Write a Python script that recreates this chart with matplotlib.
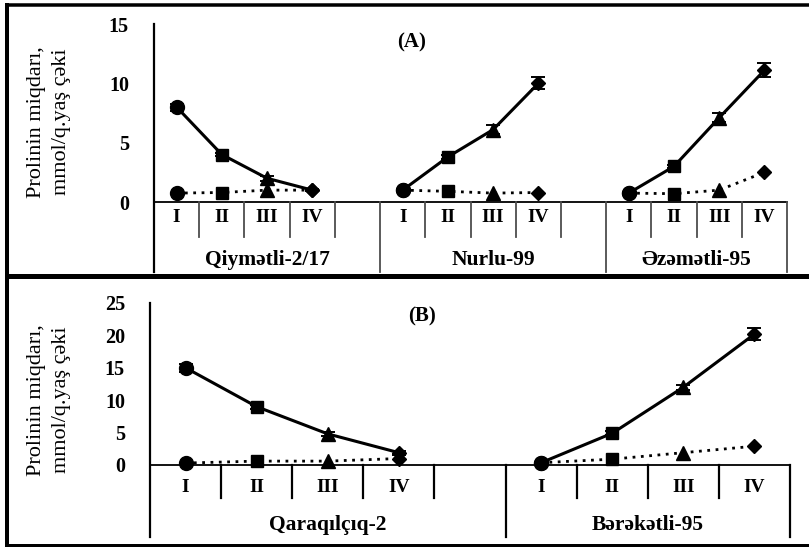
import matplotlib
matplotlib.use("Agg")
import matplotlib.pyplot as plt
from matplotlib.lines import Line2D
import numpy as np

plt.rcParams['font.family'] = ['Liberation Serif', 'DejaVu Serif']

# ---------------- data ----------------
stages = ["I", "II", "III", "IV"]
stage_markers = ['o', 's', '^', 'D']

groups_A = ["Qiymətli-2/17", "Nurlu-99", "Əzəmətli-95"]
group_start_A = [0, 5, 10]
group_width_A = [5, 5, 4]
n_slots_A = 14
solid_A = [[8.0, 4.0, 2.0, 1.0],
           [1.0, 3.8, 6.1, 10.0],
           [0.75, 3.0, 7.1, 11.1]]
solid_err_A = [[0.3, 0.15, 0.2, 0.1],
               [0.1, 0.15, 0.4, 0.5],
               [0.1, 0.15, 0.4, 0.6]]
dotted_A = [[0.75, 0.8, 1.0, 1.0],
            [1.0, 0.9, 0.75, 0.8],
            [0.75, 0.7, 1.0, 2.5]]
yticks_A = [0, 5, 10, 15]

groups_B = ["Qaraqılçıq-2", "Bərəkətli-95"]
group_start_B = [0, 5]
group_width_B = [5, 4]
n_slots_B = 9
solid_B = [[15.0, 9.0, 4.8, 1.9],
           [0.35, 4.9, 12.0, 20.2]]
solid_err_B = [[0.6, 0.3, 0.3, 0.3],
               [0.1, 0.3, 0.4, 0.9]]
dotted_B = [[0.3, 0.6, 0.6, 1.0],
            [0.35, 0.9, 1.9, 2.9]]
yticks_B = [0, 5, 10, 15, 20, 25]

ylabel_lines = ["Prolinin miqdarı,", "mmol/q.yaş çəki"]

W, H = 809, 547
fig = plt.figure(figsize=(W / 100, H / 100), dpi=100)


def fx(px):
    return px / W


def fy(py):
    return 1 - py / H


def panel(left_px, right_px, top_px, bot_px, zero_px, ymax, yticks,
          groups, starts, widths, nslots, solid, serr, dotted, tick_len_px,
          cat_y_px, grp_y_px, title, title_xy, sep_color, sep_lw, ylab_y):
    ax = fig.add_axes([fx(left_px), fy(bot_px), fx(right_px - left_px),
                       (bot_px - top_px) / H])
    ppu = (zero_px - top_px) / ymax
    ymin = -(bot_px - zero_px) / ppu
    ax.set_xlim(0, nslots)
    ax.set_ylim(ymin, ymax)
    for s in ['top', 'right', 'bottom']:
        ax.spines[s].set_visible(False)
    ax.spines['left'].set_linewidth(1.6)
    ax.set_xticks([])
    ax.set_yticks(yticks)
    ax.set_yticklabels([str(t) for t in yticks], fontsize=14.5, fontweight='bold')
    ax.tick_params(axis='y', length=0, pad=18)
    ax.patch.set_visible(False)

    # category axis
    ax.plot([0, nslots], [0, 0], color='black', lw=1.3, clip_on=False)
    tick_len = tick_len_px / ppu
    group_bounds = set(starts[1:]) | {nslots}
    for b in range(1, nslots + 1):
        if b in group_bounds:
            ax.plot([b, b], [0, ymin], color=sep_color, lw=sep_lw, clip_on=False)
        else:
            ax.plot([b, b], [0, -tick_len], color=sep_color, lw=sep_lw, clip_on=False)
    cat_y = -(cat_y_px - zero_px) / ppu
    grp_y = -(grp_y_px - zero_px) / ppu
    for gi, g in enumerate(groups):
        st = starts[gi]
        for k, lab in enumerate(stages):
            ax.text(st + k + 0.5, cat_y, lab, ha='center', va='center',
                    fontsize=14, fontweight='bold')
        ax.text(st + widths[gi] / 2, grp_y, g, ha='center', va='center',
                fontsize=15.5, fontweight='bold')

        xs = np.arange(4) + st + 0.5
        # dotted series
        ax.plot(xs, dotted[gi], color='black', lw=2.0, ls=(0, (1, 2)), zorder=3)
        # solid series
        ax.errorbar(xs, solid[gi], yerr=serr[gi], color='black', lw=2.2,
                    capsize=5, elinewidth=1.4, capthick=1.4, zorder=4)
        for k in range(4):
            m = stage_markers[k]
            ms = {'o': 10, 's': 9, '^': 10, 'D': 7.5}[m]
            ax.plot(xs[k], dotted[gi][k], marker=m, ms=ms, color='black',
                    ls='none', zorder=5)
            ax.plot(xs[k], solid[gi][k], marker=m, ms=ms, color='black',
                    ls='none', zorder=6)

    fig.text(fx(title_xy[0]), fy(title_xy[1]), title, ha='center', va='center',
             fontsize=15, fontweight='bold')
    fig.text(fx(37), fy(ylab_y), ylabel_lines[0], rotation=90,
             ha='center', va='center', fontsize=16)
    fig.text(fx(62), fy(ylab_y), ylabel_lines[1], rotation=90,
             ha='center', va='center', fontsize=16)
    return ax


panel(154, 787, 24, 272, 202, 15, yticks_A, groups_A, group_start_A,
      group_width_A, n_slots_A, solid_A, solid_err_A, dotted_A, 35, 218, 260,
      "(A)", (412, 42), '0.3', 1.3, 122)

panel(150, 790, 303, 537, 465, 25, yticks_B, groups_B, group_start_B,
      group_width_B, n_slots_B, solid_B, solid_err_B, dotted_B, 33, 488, 525,
      "(B)", (422, 316), 'black', 1.6, 400)

# panel frames
for (x0, y0, x1, y1, lw) in [
        (7, 4.5, 809, 4.5, 3.5),     # top of A
        (7, 4.5, 7, 545, 4.0),       # left
        (7, 275.5, 809, 275.5, 5.0),  # separator
        (7, 544.5, 809, 544.5, 3.0),  # bottom
]:
    fig.add_artist(Line2D([fx(x0), fx(x1)], [fy(y0), fy(y1)], color='black',
                          lw=lw * 0.72))

fig.savefig("out.png", dpi=100)
